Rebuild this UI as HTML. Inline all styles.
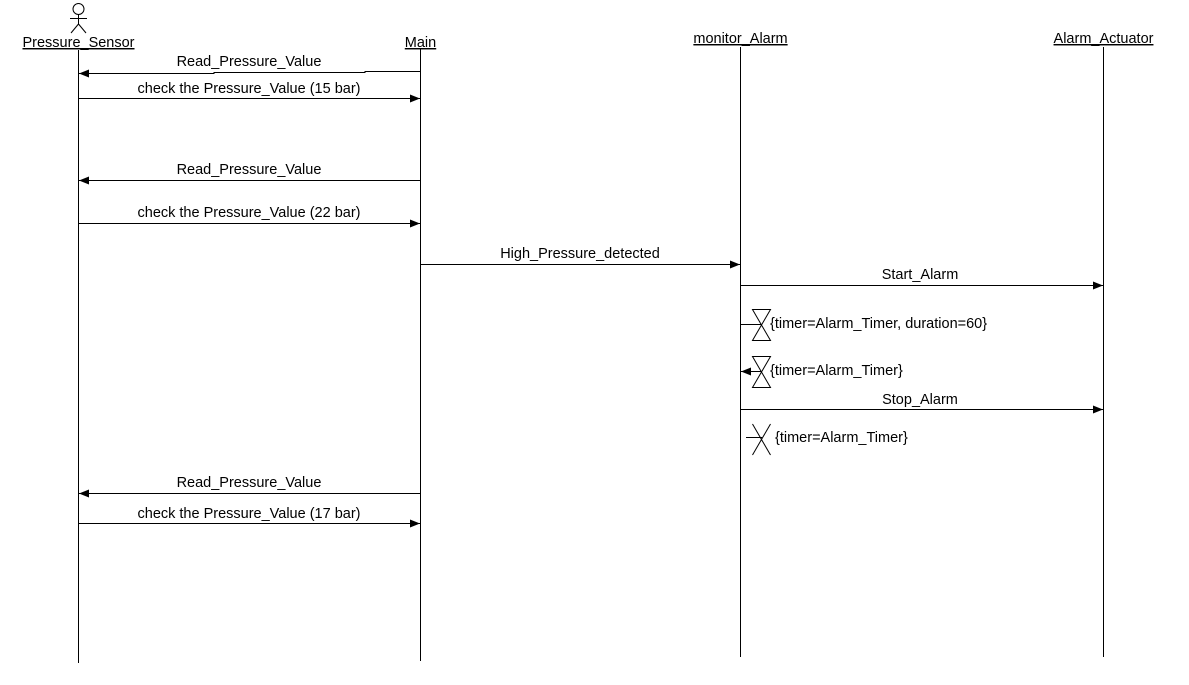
<!DOCTYPE html>
<html><head><meta charset="utf-8"><style>
html,body{margin:0;padding:0;background:#fff;}
svg{display:block;}
text{font-family:"Liberation Sans",Arial,sans-serif;font-size:14.5px;fill:#000;}
.u{text-decoration:underline;}
</style></head><body>
<svg width="1189" height="685" viewBox="0 0 1189 685" xmlns="http://www.w3.org/2000/svg">
<defs>
<marker id="a" markerWidth="10" markerHeight="10" refX="10" refY="5" orient="auto" markerUnits="userSpaceOnUse">
<path d="M0,1 L10,5 L0,9 Z" fill="#000"/></marker>
</defs>
<g stroke="#000" stroke-width="1" fill="none">
<circle cx="78.5" cy="9" r="5.5"/>
<line x1="78.5" y1="14.5" x2="78.5" y2="24"/>
<line x1="70" y1="18.5" x2="87" y2="18.5"/>
<line x1="78.5" y1="24" x2="71" y2="33"/>
<line x1="78.5" y1="24" x2="86" y2="33"/>
<line x1="78.5" y1="50" x2="78.5" y2="663"/>
<line x1="420.5" y1="49" x2="420.5" y2="661"/>
<line x1="740.5" y1="47" x2="740.5" y2="657"/>
<line x1="1103.5" y1="47" x2="1103.5" y2="657"/>
<path d="M420,71.5 H365 V72.5 H214 V73.5 H79" marker-end="url(#a)"/>
<line x1="78" y1="98.5" x2="420" y2="98.5" marker-end="url(#a)"/>
<line x1="420" y1="180.5" x2="79" y2="180.5" marker-end="url(#a)"/>
<line x1="78" y1="223.5" x2="420" y2="223.5" marker-end="url(#a)"/>
<line x1="420" y1="264.5" x2="740" y2="264.5" marker-end="url(#a)"/>
<line x1="740" y1="285.5" x2="1103" y2="285.5" marker-end="url(#a)"/>
<line x1="740" y1="409.5" x2="1103" y2="409.5" marker-end="url(#a)"/>
<line x1="420" y1="493.5" x2="79" y2="493.5" marker-end="url(#a)"/>
<line x1="78" y1="523.5" x2="420" y2="523.5" marker-end="url(#a)"/>
<line x1="740" y1="324.5" x2="761" y2="324.5"/>
<path d="M752.5,309.5 H770.5 L752.5,340.5 H770.5 Z"/>
<line x1="761" y1="371.5" x2="741" y2="371.5" marker-end="url(#a)"/>
<path d="M752.5,356.5 H770.5 L752.5,387.5 H770.5 Z"/>
<line x1="746" y1="437.5" x2="762" y2="437.5"/>
<line x1="752.5" y1="424" x2="770.5" y2="455"/>
<line x1="770.5" y1="424" x2="752.5" y2="455"/>
</g>
<text class="u" x="78.5" y="47" text-anchor="middle">Pressure_Sensor</text>
<text class="u" x="420.5" y="47" text-anchor="middle">Main</text>
<text class="u" x="740.5" y="43" text-anchor="middle">monitor_Alarm</text>
<text class="u" x="1103.5" y="43" text-anchor="middle">Alarm_Actuator</text>
<text x="249" y="66" text-anchor="middle">Read_Pressure_Value</text>
<text x="249" y="93" text-anchor="middle">check the Pressure_Value (15 bar)</text>
<text x="249" y="174" text-anchor="middle">Read_Pressure_Value</text>
<text x="249" y="217" text-anchor="middle">check the Pressure_Value (22 bar)</text>
<text x="580" y="258" text-anchor="middle">High_Pressure_detected</text>
<text x="920" y="279" text-anchor="middle">Start_Alarm</text>
<text x="920" y="404" text-anchor="middle">Stop_Alarm</text>
<text x="249" y="487" text-anchor="middle">Read_Pressure_Value</text>
<text x="249" y="518" text-anchor="middle">check the Pressure_Value (17 bar)</text>
<text x="770" y="328">{timer=Alarm_Timer, duration=60}</text>
<text x="770" y="375">{timer=Alarm_Timer}</text>
<text x="775" y="442">{timer=Alarm_Timer}</text>
</svg>
</body></html>
